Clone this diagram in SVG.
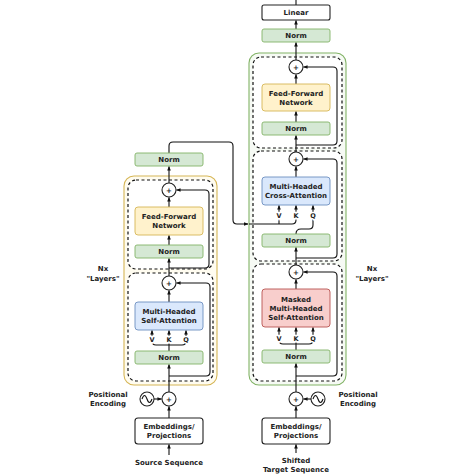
<svg xmlns="http://www.w3.org/2000/svg" width="474" height="474" viewBox="0 0 474 474">
<style>
.t{font-family:"DejaVu Sans",Verdana,sans-serif;font-weight:bold;font-size:7px;fill:#222;text-anchor:middle}
.s{font-size:6.5px;paint-order:stroke;stroke:#fff;stroke-width:3px}
.norm{fill:#d5e8d4;stroke:#82b366;stroke-width:0.9}
.ffn{fill:#fff2cc;stroke:#d6b656;stroke-width:0.9}
.att{fill:#dae8fc;stroke:#6c8ebf;stroke-width:0.9}
.mask{fill:#f8cecc;stroke:#b85450;stroke-width:0.9}
.plain{fill:#fff;stroke:#222;stroke-width:1.1}
.dash{fill:#fff;stroke:#111;stroke-width:1.2;stroke-dasharray:3,2.5}
.c{fill:none;stroke:#111;stroke-width:1.1}
.ca{fill:none;stroke:#111;stroke-width:1.1;marker-end:url(#ah)}
</style>
<defs>
<marker id="ah" viewBox="0 0 10 10" refX="9" refY="5" markerWidth="4.5" markerHeight="4.5" markerUnits="userSpaceOnUse" orient="auto"><path d="M0,1 L10,5 L0,9 z" fill="#111"/></marker>
</defs>
<rect width="474" height="474" fill="#fff"/>

<!-- Encoder containers -->
<g id="encoder-stack">
<rect x="124" y="176" width="93" height="209" rx="10" fill="#fffcf0" stroke="#d6b656" stroke-width="1.1"/>
<rect class="dash" x="128" y="180" width="85" height="89" rx="8"/>
<rect class="dash" x="128" y="273" width="85" height="108" rx="8"/>
<text class="t" x="103" y="271">Nx</text>
<text class="t" x="103" y="281">"Layers"</text>
</g>

<!-- Decoder containers -->
<g id="decoder-stack">
<rect x="249" y="53" width="97" height="332" rx="10" fill="#f6faf4" stroke="#82b366" stroke-width="1.1"/>
<rect class="dash" x="253" y="57" width="89" height="91" rx="8"/>
<rect class="dash" x="253" y="151" width="89" height="110" rx="8"/>
<rect class="dash" x="253" y="264" width="89" height="117" rx="8"/>
<text class="t" x="372" y="271">Nx</text>
<text class="t" x="372" y="281">"Layers"</text>
</g>

<g id="connectors">
<!-- encoder -->
<path class="ca" d="M169,153 V146 Q169,142 173,142 H229 Q233,142 233,146 V220 Q233,224 237,224 H248"/>
<path class="ca" d="M169,183 V166.5"/>
<path class="ca" d="M169,207 V197.5"/>
<path class="ca" d="M169,245 V235.5"/>
<path class="ca" d="M169,276 V258.5"/>
<path class="ca" d="M169,302 V290.5"/>
<path class="ca" d="M169,268 H205 Q209,268 209,264 V194 Q209,190 205,190 H176.5"/>
<path class="ca" d="M169,376 H206 Q210,376 210,372 V287 Q210,283 206,283 H176.5"/>
<path class="ca" d="M169,351 V330.5"/>
<path class="ca" d="M169,345 H156 Q152,345 152,341 V330.5"/>
<path class="ca" d="M169,345 H182 Q186,345 186,341 V330.5"/>
<path class="ca" d="M169,392 V364.5"/>
<path class="ca" d="M169,418 V406.5"/>
<path class="ca" d="M154,399 H161.5"/>
<path class="ca" d="M169,455 V444.5"/>
<!-- decoder -->
<path class="c" d="M296,5 V0"/>
<path class="ca" d="M296,29 V20.5"/>
<path class="ca" d="M296,60 V42.5"/>
<path class="ca" d="M296,84 V74.5"/>
<path class="ca" d="M296,122 V111.5"/>
<path class="ca" d="M296,152 V135.5"/>
<path class="ca" d="M296,177 V166.5"/>
<path class="ca" d="M296,145 H333 Q337,145 337,141 V71 Q337,67 333,67 H303.5"/>
<path class="ca" d="M296,258 H333 Q337,258 337,254 V163 Q337,159 333,159 H303.5"/>
<path class="ca" d="M296,376 H333 Q337,376 337,372 V276 Q337,272 333,272 H303.5"/>
<path class="ca" d="M296,234 Q296,229 301,229 H309 Q313,229 313,225 V205.5"/>
<path class="ca" d="M249,224 H292 Q296,224 296,220 V205.5"/>
<path class="ca" d="M279,224 V205.5"/>
<path class="ca" d="M296,265 V247.5"/>
<path class="ca" d="M296,289 V279.5"/>
<path class="ca" d="M296,350 V327.5"/>
<path class="ca" d="M296,344 H283 Q279,344 279,340 V327.5"/>
<path class="ca" d="M296,344 H309 Q313,344 313,340 V327.5"/>
<path class="ca" d="M296,392 V363.5"/>
<path class="ca" d="M296,418 V406.5"/>
<path class="ca" d="M311,399 H303.5"/>
<path class="ca" d="M296,453 V444.5"/>
<!-- V K Q labels -->
<text class="t s" x="152" y="342">V</text>
<text class="t s" x="169" y="342">K</text>
<text class="t s" x="186" y="342">Q</text>
<text class="t s" x="279" y="218">V</text>
<text class="t s" x="296" y="218">K</text>
<text class="t s" x="313" y="218">Q</text>
<text class="t s" x="279" y="341">V</text>
<text class="t s" x="296" y="341">K</text>
<text class="t s" x="313" y="341">Q</text>
</g>

<!-- Encoder nodes -->
<g id="enc-norm-out"><rect class="norm" x="135" y="153" width="68" height="13" rx="2"/><text class="t" x="169" y="162">Norm</text></g>
<g id="enc-add-2"><circle class="plain" cx="169" cy="190" r="7"/><text class="t" x="169" y="193">+</text></g>
<g id="enc-ffn"><rect class="ffn" x="135" y="207" width="68" height="28" rx="3"/><text class="t" x="169" y="219">Feed-Forward</text><text class="t" x="169" y="228">Network</text></g>
<g id="enc-norm-2"><rect class="norm" x="135" y="245" width="68" height="13" rx="2"/><text class="t" x="169" y="254">Norm</text></g>
<g id="enc-add-1"><circle class="plain" cx="169" cy="283" r="7"/><text class="t" x="169" y="286">+</text></g>
<g id="enc-mha"><rect class="att" x="135" y="302" width="68" height="28" rx="3"/><text class="t" x="169" y="314">Multi-Headed</text><text class="t" x="169" y="323">Self-Attention</text></g>
<g id="enc-norm-1"><rect class="norm" x="135" y="351" width="68" height="13" rx="2"/><text class="t" x="169" y="360">Norm</text></g>
<g id="enc-add-pe"><circle class="plain" cx="169" cy="399" r="7"/><text class="t" x="169" y="402">+</text></g>
<g id="enc-pe"><circle class="plain" cx="147" cy="399" r="7"/><path class="c" d="M142,399 Q144.5,392 147,399 T152,399"/><text class="t" x="108" y="397">Positional</text><text class="t" x="108" y="406">Encoding</text></g>
<g id="enc-emb"><rect class="plain" x="135" y="418" width="68" height="26" rx="3"/><text class="t" x="169" y="429">Embeddings/</text><text class="t" x="169" y="438">Projections</text></g>
<g id="enc-src"><text class="t" x="169" y="465">Source Sequence</text></g>

<!-- Decoder nodes -->
<g id="dec-linear"><rect class="plain" x="262" y="5" width="68" height="15" rx="2"/><text class="t" x="296" y="15">Linear</text></g>
<g id="dec-norm-out"><rect class="norm" x="262" y="29" width="68" height="13" rx="2"/><text class="t" x="296" y="38">Norm</text></g>
<g id="dec-add-3"><circle class="plain" cx="296" cy="67" r="7"/><text class="t" x="296" y="70">+</text></g>
<g id="dec-ffn"><rect class="ffn" x="262" y="84" width="68" height="27" rx="3"/><text class="t" x="296" y="96">Feed-Forward</text><text class="t" x="296" y="105">Network</text></g>
<g id="dec-norm-3"><rect class="norm" x="262" y="122" width="68" height="13" rx="2"/><text class="t" x="296" y="131">Norm</text></g>
<g id="dec-add-2"><circle class="plain" cx="296" cy="159" r="7"/><text class="t" x="296" y="162">+</text></g>
<g id="dec-cross"><rect class="att" x="262" y="177" width="68" height="28" rx="3"/><text class="t" x="296" y="189">Multi-Headed</text><text class="t" x="296" y="198">Cross-Attention</text></g>
<g id="dec-norm-2"><rect class="norm" x="262" y="234" width="68" height="13" rx="2"/><text class="t" x="296" y="243">Norm</text></g>
<g id="dec-add-1"><circle class="plain" cx="296" cy="272" r="7"/><text class="t" x="296" y="275">+</text></g>
<g id="dec-masked"><rect class="mask" x="262" y="289" width="68" height="38" rx="3"/><text class="t" x="296" y="302">Masked</text><text class="t" x="296" y="311">Multi-Headed</text><text class="t" x="296" y="320">Self-Attention</text></g>
<g id="dec-norm-1"><rect class="norm" x="262" y="350" width="68" height="13" rx="2"/><text class="t" x="296" y="359">Norm</text></g>
<g id="dec-add-pe"><circle class="plain" cx="296" cy="399" r="7"/><text class="t" x="296" y="402">+</text></g>
<g id="dec-pe"><circle class="plain" cx="318" cy="399" r="7"/><path class="c" d="M313,399 Q315.5,392 318,399 T323,399"/><text class="t" x="358" y="397">Positional</text><text class="t" x="358" y="406">Encoding</text></g>
<g id="dec-emb"><rect class="plain" x="262" y="418" width="68" height="26" rx="3"/><text class="t" x="296" y="429">Embeddings/</text><text class="t" x="296" y="438">Projections</text></g>
<g id="dec-tgt"><text class="t" x="296" y="463">Shifted</text><text class="t" x="296" y="472">Target Sequence</text></g>
</svg>
